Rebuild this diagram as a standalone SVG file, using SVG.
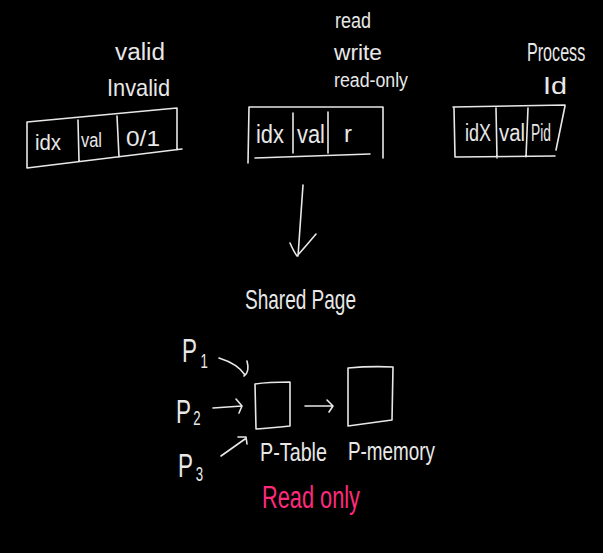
<svg xmlns="http://www.w3.org/2000/svg" width="603" height="553" viewBox="0 0 603 553">
<style>
.ln{fill:none;stroke:#e8e8e8;stroke-width:1.6;stroke-linecap:round;stroke-linejoin:round}
.t{font-family:"Liberation Sans",Arial,sans-serif;fill:#e8e8e8}
.pk{font-family:"Liberation Sans",Arial,sans-serif;fill:#ff2a7a}
</style>
<rect width="603" height="553" fill="#000"/>
<g id="labels-valid">
<text class="t" x="115" y="60" font-size="23" textLength="50" lengthAdjust="spacingAndGlyphs">valid</text>
<text class="t" x="107" y="96" font-size="24" textLength="63" lengthAdjust="spacingAndGlyphs">Invalid</text>
</g>
<g id="entry-valid">
<path class="ln" d="M27,122 L177,108 M27,122 L27,168 M27,168 L182,149 M177,108 L177,150 M78,120 L79,161 M117,116 L119,157"/>
<text class="t" x="35" y="150" font-size="22" textLength="26" lengthAdjust="spacingAndGlyphs">idx</text>
<text class="t" x="81" y="147" font-size="20" textLength="21" lengthAdjust="spacingAndGlyphs">val</text>
<text class="t" x="126" y="146" font-size="22" textLength="34" lengthAdjust="spacingAndGlyphs">0/1</text>
</g>
<g id="labels-rw">
<text class="t" x="335" y="28" font-size="22" textLength="36" lengthAdjust="spacingAndGlyphs">read</text>
<text class="t" x="334" y="60" font-size="22" textLength="48" lengthAdjust="spacingAndGlyphs">write</text>
<text class="t" x="334" y="87" font-size="20" textLength="74" lengthAdjust="spacingAndGlyphs">read-only</text>
</g>
<g id="entry-rw">
<path class="ln" d="M249,107 L383,107 M249,107 L248,163 M255,158 L370,154 M383,107 L383,158 M293,113 L293,153 M328,112 L328,153"/>
<text class="t" x="256" y="143" font-size="26" textLength="28" lengthAdjust="spacingAndGlyphs">idx</text>
<text class="t" x="297" y="143" font-size="26" textLength="28" lengthAdjust="spacingAndGlyphs">val</text>
<text class="t" x="344" y="142" font-size="24">r</text>
</g>
<g id="labels-pid">
<text class="t" transform="translate(527,61) scale(0.62,1)" font-size="26">Process</text>
<text class="t" x="543" y="94" font-size="24" textLength="24" lengthAdjust="spacingAndGlyphs">Id</text>
</g>
<g id="entry-pid">
<path class="ln" d="M453,107 L565,105 M454,108 L455,157 M455,157 L555,156 M565,106 L556,150 M496,108 L497,158 M528,108 L526,157"/>
<text class="t" x="465" y="141" font-size="23" textLength="26" lengthAdjust="spacingAndGlyphs">idX</text>
<text class="t" x="499" y="141" font-size="23" textLength="26" lengthAdjust="spacingAndGlyphs">val</text>
<text class="t" x="531" y="141" font-size="23" textLength="20" lengthAdjust="spacingAndGlyphs">Pid</text>
</g>
<g id="shared-page">
<text class="t" x="245" y="309" font-size="28" textLength="111" lengthAdjust="spacingAndGlyphs">Shared Page</text>
</g>
<g id="p1">
<text class="t" transform="translate(182,362) scale(0.66,1)" font-size="34">P<tspan x="28" dy="6" font-size="20">1</tspan></text>
</g>
<g id="p2">
<text class="t" transform="translate(176,423) scale(0.66,1)" font-size="34">P<tspan x="26" dy="2" font-size="20">2</tspan></text>
</g>
<g id="p3">
<text class="t" transform="translate(178,477) scale(0.66,1)" font-size="34">P<tspan x="27" dy="4" font-size="20">3</tspan></text>
</g>
<g id="p-table">
<path class="ln" d="M255,384 Q268,382 290,382 L290,426 Q270,428 256,429 Z"/>
<text class="t" x="260" y="461" font-size="25" textLength="67" lengthAdjust="spacingAndGlyphs">P-Table</text>
</g>
<g id="p-memory">
<path class="ln" d="M348,368 Q370,366 393,367 L392,420 L348,426 Z"/>
<text class="t" x="348" y="460" font-size="25" textLength="87" lengthAdjust="spacingAndGlyphs">P-memory</text>
</g>
<g id="read-only">
<text class="pk" x="262" y="508" font-size="31" textLength="98" lengthAdjust="spacingAndGlyphs">Read only</text>
</g>
<g id="connectors">
<path class="ln" d="M303,185 L298,256 M290,243 Q294,252 297,256 Q306,246 316,234"/>
<path class="ln" d="M219,358 Q238,364 245,375 M247,361 Q250,372 244,376"/>
<path class="ln" d="M213,408 L242,406 M236,399 L242,406 L239,413"/>
<path class="ln" d="M221,456 L245,439 M238,437 L246,437 L247,444"/>
<path class="ln" d="M305,406 L333,406 M327,400 L333,406 L329,412"/>
</g>
</svg>
